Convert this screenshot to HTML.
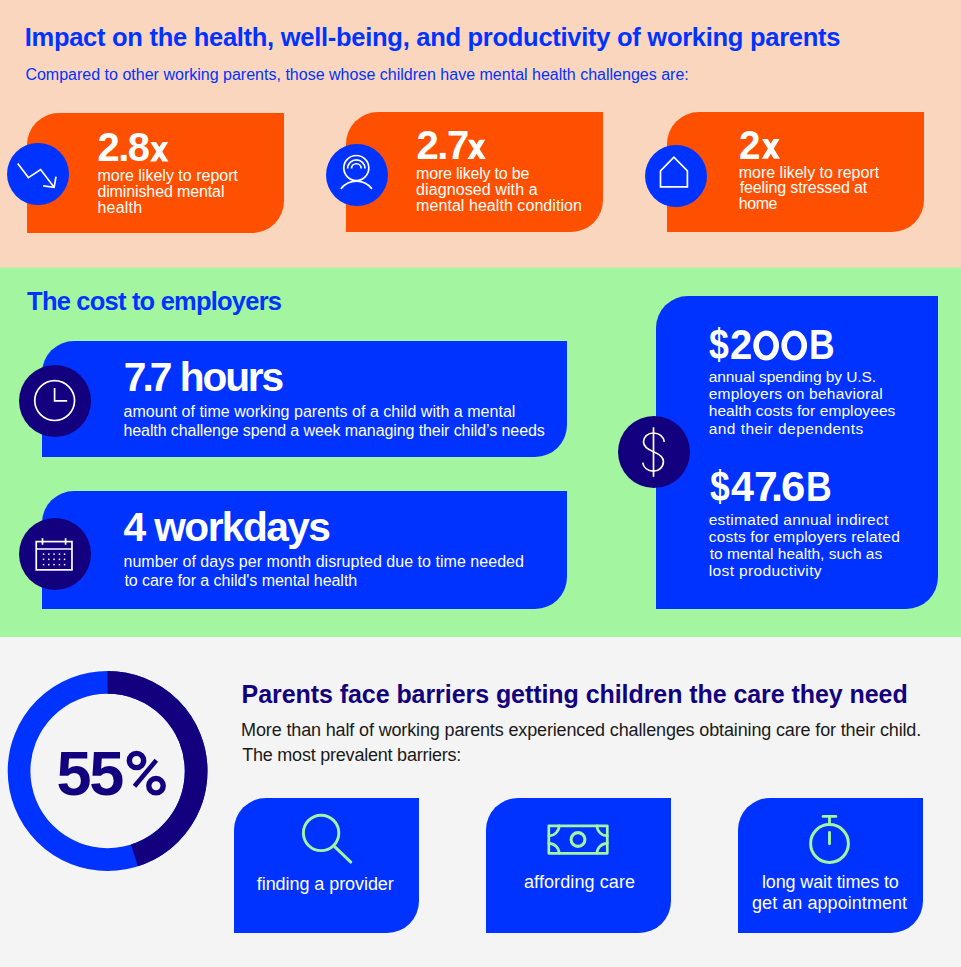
<!DOCTYPE html>
<html>
<head>
<meta charset="utf-8">
<title>Impact on working parents</title>
<style>
html,body{margin:0;padding:0;}
body{width:961px;height:967px;overflow:hidden;position:relative;font-family:"Liberation Sans",sans-serif;background:#F4F4F4;}
.sec{position:absolute;left:0;width:961px;}
.t{position:absolute;white-space:nowrap;line-height:1;}
.ob{position:absolute;background:#FE5000;border-radius:32px 0 32px 0;}
.bb{position:absolute;background:#0033FF;border-radius:32px 0 32px 0;}
.bc{position:absolute;border-radius:50%;background:#0033FF;}
.nc{position:absolute;border-radius:50%;background:#13007F;}
svg.ov{position:absolute;left:0;top:0;overflow:visible;}
</style>
</head>
<body>
<!-- Section 1: impact -->
<div class="sec" style="top:0;height:267px;background:#F9D6BD;"></div>
<div class="ob" style="left:27px;top:113px;width:257px;height:120px;"></div>
<div class="ob" style="left:346px;top:111.5px;width:257px;height:120px;"></div>
<div class="ob" style="left:667px;top:111.5px;width:257px;height:120px;"></div>
<div class="bc" style="left:7px;top:142.7px;width:62px;height:62px;"></div>
<div class="bc" style="left:326px;top:144px;width:62px;height:62px;"></div>
<div class="bc" style="left:644.6px;top:144.5px;width:62px;height:62px;"></div>

<!-- Section 2: cost to employers -->
<div class="sec" style="top:267px;height:370px;background:#A3F5A0;"></div>
<div class="sec" style="top:267px;height:1px;background:#CEE6AF;"></div>
<div class="bb" style="left:42px;top:341px;width:524.5px;height:115.5px;"></div>
<div class="bb" style="left:42px;top:490.6px;width:524.5px;height:118.2px;"></div>
<div class="bb" style="left:656.2px;top:296.3px;width:282.2px;height:312.3px;"></div>
<div class="nc" style="left:19px;top:364.5px;width:72px;height:72px;"></div>
<div class="nc" style="left:19px;top:518px;width:72px;height:72px;"></div>
<div class="nc" style="left:618.3px;top:416.3px;width:72px;height:72px;"></div>

<!-- Section 3: barriers -->
<div class="sec" style="top:637px;height:330px;background:#F4F4F4;"></div>
<div class="bb" style="left:234.2px;top:797.7px;width:185.3px;height:135.5px;"></div>
<div class="bb" style="left:486.3px;top:797.7px;width:185px;height:135.5px;"></div>
<div class="bb" style="left:738.3px;top:797.7px;width:185px;height:135.5px;"></div>

<svg class="ov" width="961" height="967">
  <!-- donut -->
  <circle cx="107.6" cy="771" r="88.55" fill="none" stroke="#0033FF" stroke-width="22.7"/>
  <circle cx="107.6" cy="771" r="88.55" fill="none" stroke="#13007F" stroke-width="22.7" stroke-dasharray="250.4 1000" transform="rotate(-90 107.6 771)"/>
  <!-- round O glyphs of $200B -->
  <path fill="#fff" fill-rule="evenodd" d="M753.3,345.6 a12.85,15 0 1,0 25.7,0 a12.85,15 0 1,0 -25.7,0 Z M758.9,345.6 a7.25,9.8 0 1,0 14.5,0 a7.25,9.8 0 1,0 -14.5,0 Z"/>
  <path fill="#fff" fill-rule="evenodd" d="M781.4,345.6 a12.85,15 0 1,0 25.7,0 a12.85,15 0 1,0 -25.7,0 Z M787,345.6 a7.25,9.8 0 1,0 14.5,0 a7.25,9.8 0 1,0 -14.5,0 Z"/>
  <!-- x glyphs of stats -->
  <g fill="#fff">
    <polygon points="150.3,141.9 156,141.9 168.5,161.4 162.3,161.4"/>
    <polygon points="162.5,141.9 168.2,141.9 156,161.4 150,161.4"/>
    <polygon points="467.9,139.8 473.6,139.8 485.8,159.1 479.9,159.1"/>
    <polygon points="479.3,139.8 485.3,139.8 473.4,159.1 467.4,159.1"/>
    <polygon points="762,139 767.8,139 780,158.8 773.8,158.8"/>
    <polygon points="773.5,139 779.5,139 767.8,158.8 761.8,158.8"/>
  </g>
  <!-- percent sign -->
  <g fill="none" stroke="#13007F">
    <circle cx="136.5" cy="760.5" r="7.15" stroke-width="5.4"/>
    <circle cx="156" cy="785.7" r="7.2" stroke-width="5.4"/>
    <line x1="156.3" y1="760.3" x2="134.5" y2="786.3" stroke-width="4.6"/>
  </g>
  <g fill="none" stroke="#fff" stroke-width="1.7">
    <!-- trend down -->
    <polyline points="17.7,163.6 28.4,177.6 40.6,169.6 54.1,187.3"/>
    <polyline points="43.2,185.9 54.1,187.3 56,176.6"/>
    <!-- person -->
    <circle cx="356.3" cy="168" r="12.5"/>
    <path d="M347.6,168.6 A8.7,8.7 0 0 1 365,168.6"/>
    <path d="M351.5,168.6 A4.85,4.85 0 0 1 361.2,168.6"/>
    <path d="M341.3,188.4 A19.3,19.3 0 0 1 371.5,188.4" stroke-linecap="round"/>
    <!-- house -->
    <path d="M660.5,186.8 L660.5,170.8 L673.9,157.1 L687.4,170.8 L687.4,186.8 Z"/>
    <!-- clock -->
    <circle cx="54.65" cy="400.6" r="19.9"/>
    <polyline points="54.6,388 54.6,400.9 67.2,400.9"/>
    <!-- calendar -->
    <rect x="36.24" y="541.6" width="35.72" height="28.26"/>
    <line x1="36.24" y1="549" x2="71.96" y2="549"/>
    <line x1="42.5" y1="538.2" x2="42.5" y2="544.7"/>
    <line x1="65.6" y1="538.2" x2="65.6" y2="544.7"/>
    <!-- dollar -->
    <line x1="653.5" y1="427.3" x2="653.5" y2="476.8"/>
    <path d="M664.3,441.8 C663.5,436.5 659,433 653.5,433 C647.5,433 643.5,437 643.5,442 C643.5,447 648,449.5 653.5,451.7 C659,454 663.4,456.5 663.4,461.4 C663.4,466.8 659,471.1 653.5,471.1 C647.5,471.1 643.5,467.5 642.7,462.6"/>
  </g>
  <g fill="#fff">
    <rect x="42.8" y="553.4" width="1.5" height="1.5"/><rect x="48" y="553.4" width="1.5" height="1.5"/><rect x="53.3" y="553.4" width="1.5" height="1.5"/><rect x="58.7" y="553.4" width="1.5" height="1.5"/><rect x="63.8" y="553.4" width="1.5" height="1.5"/>
    <rect x="42.8" y="558.6" width="1.5" height="1.5"/><rect x="48" y="558.6" width="1.5" height="1.5"/><rect x="53.3" y="558.6" width="1.5" height="1.5"/><rect x="58.7" y="558.6" width="1.5" height="1.5"/><rect x="63.8" y="558.6" width="1.5" height="1.5"/>
    <rect x="42.8" y="563.9" width="1.5" height="1.5"/><rect x="48" y="563.9" width="1.5" height="1.5"/><rect x="53.3" y="563.9" width="1.5" height="1.5"/><rect x="58.7" y="563.9" width="1.5" height="1.5"/><rect x="63.8" y="563.9" width="1.5" height="1.5"/>
  </g>
  <g fill="none" stroke="#A3F5A0" stroke-width="2.9" stroke-linecap="round">
    <!-- magnifier -->
    <circle cx="321.1" cy="832.9" r="17.7"/>
    <line x1="334.9" y1="846.9" x2="350.8" y2="862.1"/>
    <!-- bill -->
    <rect x="548.8" y="825.8" width="58.5" height="27.5" stroke-linejoin="round" stroke-width="2.7"/>
    <circle cx="578" cy="839.5" r="6.9" stroke-width="3.1"/>
    <path d="M559.1,825.8 A10.3,10 0 0 1 548.8,835.8" stroke-width="2.7"/>
    <path d="M548.8,843.3 A10.3,10 0 0 1 559.1,853.3" stroke-width="2.7"/>
    <path d="M597,825.8 A10.3,10 0 0 0 607.3,835.8" stroke-width="2.7"/>
    <path d="M607.3,843.3 A10.3,10 0 0 0 597,853.3" stroke-width="2.7"/>
    <!-- stopwatch -->
    <circle cx="829.5" cy="843.5" r="18.9" stroke-width="3"/>
    <line x1="829.5" y1="816.4" x2="829.5" y2="824.5" stroke-width="2.8"/>
    <line x1="823.1" y1="816.4" x2="835.9" y2="816.4" stroke-width="2.8"/>
    <line x1="829.5" y1="832.4" x2="829.5" y2="843.8" stroke-width="2.9"/>
  </g>
</svg>

<div class="t" style="left:24.70px;top:25.16px;font-size:25.5px;font-weight:700;color:#0033FF;letter-spacing:-0.276px">Impact on the health, well-being, and productivity of working parents</div>
<div class="t" style="left:25.40px;top:67.36px;font-size:16px;font-weight:400;color:#0033FF;letter-spacing:0.009px">Compared to other working parents, those whose children have mental health challenges are:</div>
<div class="t" style="left:97.40px;top:127.34px;font-size:40px;font-weight:700;color:#fff;letter-spacing:-1.45px">2.8</div>
<div class="t" style="left:416.50px;top:125.24px;font-size:40px;font-weight:700;color:#fff;letter-spacing:-1.45px">2.7</div>
<div class="t" style="left:738.93px;top:124.94px;font-size:40px;font-weight:700;color:#fff;transform:scaleX(0.965);transform-origin:0 0">2</div>
<div class="t" style="left:97.40px;top:168.36px;font-size:16px;font-weight:400;color:#fff;letter-spacing:0.005px">more likely to report</div>
<div class="t" style="left:97.40px;top:184.26px;font-size:16px;font-weight:400;color:#fff;letter-spacing:-0.119px">diminished mental</div>
<div class="t" style="left:97.40px;top:199.86px;font-size:16px;font-weight:400;color:#fff;letter-spacing:0.22px">health</div>
<div class="t" style="left:416.10px;top:166.46px;font-size:16px;font-weight:400;color:#fff;letter-spacing:-0.2px">more likely to be</div>
<div class="t" style="left:416.10px;top:181.86px;font-size:16px;font-weight:400;color:#fff;letter-spacing:0.093px">diagnosed with a</div>
<div class="t" style="left:416.10px;top:197.96px;font-size:16px;font-weight:400;color:#fff;letter-spacing:0.055px">mental health condition</div>
<div class="t" style="left:738.70px;top:165.16px;font-size:16px;font-weight:400;color:#fff;letter-spacing:0.0px">more likely to report</div>
<div class="t" style="left:739.70px;top:180.46px;font-size:16px;font-weight:400;color:#fff;letter-spacing:-0.128px">feeling stressed at</div>
<div class="t" style="left:738.70px;top:195.66px;font-size:16px;font-weight:400;color:#fff;letter-spacing:-0.4px">home</div>
<div class="t" style="left:27.10px;top:288.71px;font-size:25.5px;font-weight:700;color:#0033FF;letter-spacing:-0.79px">The cost to employers</div>
<div class="t" style="left:123.80px;top:356.75px;font-size:40.7px;font-weight:700;color:#fff;letter-spacing:-4.0px">7.7</div>
<div class="t" style="left:179.80px;top:356.75px;font-size:40.7px;font-weight:700;color:#fff;letter-spacing:-2.175px">hours</div>
<div class="t" style="left:123.50px;top:403.96px;font-size:16px;font-weight:400;color:#fff;letter-spacing:0.028px">amount of time working parents of a child with a mental</div>
<div class="t" style="left:123.50px;top:422.56px;font-size:16px;font-weight:400;color:#fff;letter-spacing:-0.095px">health challenge spend a week managing their child’s needs</div>
<div class="t" style="left:123.60px;top:506.75px;font-size:40.7px;font-weight:700;color:#fff;letter-spacing:-1.6px">4 workdays</div>
<div class="t" style="left:123.50px;top:554.16px;font-size:16px;font-weight:400;color:#fff;letter-spacing:0.038px">number of days per month disrupted due to time needed</div>
<div class="t" style="left:124.40px;top:572.76px;font-size:16px;font-weight:400;color:#fff;letter-spacing:-0.044px">to care for a child's mental health</div>
<div class="t" style="left:709.45px;top:324.25px;font-size:42px;font-weight:700;color:#fff;transform:scaleX(0.850);transform-origin:0 0">$</div>
<div class="t" style="left:730.25px;top:324.25px;font-size:42px;font-weight:700;color:#fff;transform:scaleX(0.952);transform-origin:0 0">2</div>
<div class="t" style="left:808.77px;top:324.25px;font-size:42px;font-weight:700;color:#fff;transform:scaleX(0.844);transform-origin:0 0">B</div>
<div class="t" style="left:708.70px;top:368.98px;font-size:15.5px;font-weight:400;color:#fff;letter-spacing:-0.068px">annual spending by U.S.</div>
<div class="t" style="left:708.70px;top:386.18px;font-size:15.5px;font-weight:400;color:#fff;letter-spacing:0.236px">employers on behavioral</div>
<div class="t" style="left:708.70px;top:403.28px;font-size:15.5px;font-weight:400;color:#fff;letter-spacing:0.092px">health costs for employees</div>
<div class="t" style="left:708.70px;top:420.88px;font-size:15.5px;font-weight:400;color:#fff;letter-spacing:0.468px">and their dependents</div>
<div class="t" style="left:709.55px;top:465.65px;font-size:42px;font-weight:700;color:#fff;transform:scaleX(0.845);transform-origin:0 0">$</div>
<div class="t" style="left:731.12px;top:465.65px;font-size:42px;font-weight:700;color:#fff;transform:scaleX(0.982);transform-origin:0 0">4</div>
<div class="t" style="left:754.37px;top:465.65px;font-size:42px;font-weight:700;color:#fff;transform:scaleX(1.015);transform-origin:0 0">7</div>
<div class="t" style="left:771.40px;top:465.65px;font-size:42px;font-weight:700;color:#fff;transform:scaleX(1.033);transform-origin:0 0">.</div>
<div class="t" style="left:781.12px;top:465.65px;font-size:42px;font-weight:700;color:#fff;transform:scaleX(1.040);transform-origin:0 0">6</div>
<div class="t" style="left:805.76px;top:465.65px;font-size:42px;font-weight:700;color:#fff;transform:scaleX(0.848);transform-origin:0 0">B</div>
<div class="t" style="left:708.70px;top:511.98px;font-size:15.5px;font-weight:400;color:#fff;letter-spacing:0.304px">estimated annual indirect</div>
<div class="t" style="left:708.70px;top:529.48px;font-size:15.5px;font-weight:400;color:#fff;letter-spacing:0.192px">costs for employers related</div>
<div class="t" style="left:709.70px;top:546.28px;font-size:15.5px;font-weight:400;color:#fff;letter-spacing:0.008px">to mental health, such as</div>
<div class="t" style="left:708.70px;top:562.88px;font-size:15.5px;font-weight:400;color:#fff;letter-spacing:0.381px">lost productivity</div>
<div class="t" style="left:241.60px;top:681.74px;font-size:25px;font-weight:700;color:#13007F;letter-spacing:-0.064px">Parents face barriers getting children the care they need</div>
<div class="t" style="left:241.10px;top:720.76px;font-size:18px;font-weight:400;color:#1a1a1a;letter-spacing:-0.141px">More than half of working parents experienced challenges obtaining care for their child.</div>
<div class="t" style="left:242.20px;top:745.56px;font-size:18px;font-weight:400;color:#1a1a1a;letter-spacing:-0.219px">The most prevalent barriers:</div>
<div class="t" style="left:256.80px;top:875.06px;font-size:18px;font-weight:400;color:#fff;letter-spacing:-0.065px">finding a provider</div>
<div class="t" style="left:524.00px;top:873.46px;font-size:18px;font-weight:400;color:#fff;letter-spacing:0.1px">affording care</div>
<div class="t" style="left:762.00px;top:873.06px;font-size:18px;font-weight:400;color:#fff;letter-spacing:-0.135px">long wait times to</div>
<div class="t" style="left:752.00px;top:894.26px;font-size:18px;font-weight:400;color:#fff;letter-spacing:0.059px">get an appointment</div>
<div class="t" style="left:56.50px;top:741.97px;font-size:63px;font-weight:700;color:#13007F;letter-spacing:-2.3px">55</div>
</body>
</html>
